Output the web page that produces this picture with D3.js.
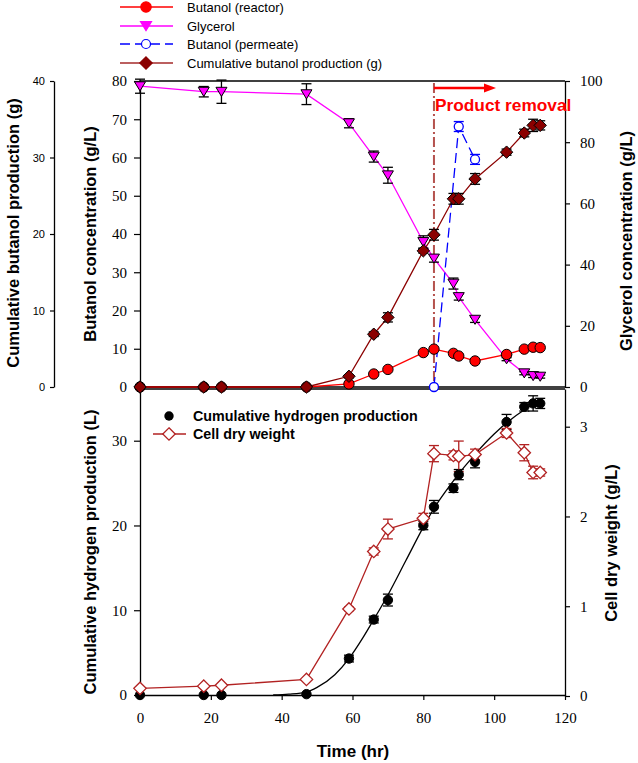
<!DOCTYPE html>
<html><head><meta charset="utf-8">
<script src="https://cdn.jsdelivr.net/npm/d3@7"></script>
<style>body{margin:0;background:#fff}svg{display:block}</style>
</head><body>
<svg id="c" width="638" height="763"></svg>
<script>
// ---------- DATA ----------
const times = [0,18,23,47,59,66,70,80,83,88.5,90,94.6,103.5,108.5,111,113];
const butanolReactor = [0,0,0,0,0.8,3.4,4.6,9.0,9.9,8.8,8.1,6.8,8.5,9.9,10.4,10.3];
const glycerol = [98.3,96.5,96.5,95.7,86.2,75.3,69.2,47.4,42.0,33.8,29.4,22.0,9.1,4.5,3.6,3.4];
const glycerolErr = [2.3,1.7,3.8,3.4,1.5,1.8,2.6,2.0,1.2,1.8,1.0,0.9,0.5,0.5,0.5,0.5];
const cumButanol = [0,0,0,0,1.4,6.9,9.1,17.8,19.9,24.6,24.6,27.2,30.7,33.2,34.2,34.2];
const cumButanolErr = [0,0,0,0,0.2,0.3,0.6,0.3,0.7,0.7,0.7,0.7,0.4,0.5,0.8,0.6];
const permeateTimes = [83,90,94.6];
const permeate = [0,68.1,59.5];
const permeateErr = [0,1.3,1.3];
const hydrogen = [0,0,0,0.1,4.3,8.9,11.2,20.0,22.2,24.4,26.0,27.5,32.2,34.0,34.4,34.4];
const hydrogenErr = [0,0,0,0,0.4,0.4,0.7,0.5,0.75,0.5,0.6,0.7,0.9,0.5,0.9,0.6];
const fitTimes = [37.6,42,47,50,55,59,63,66,70,75,80,83,88,95,100,105,111];
const fitValues = [0,0.1,0.35,0.9,2.4,4.3,6.8,8.9,11.8,15.8,19.8,22.0,25.0,28.6,30.8,32.6,34.3];
const cdw = [0.085,0.11,0.12,0.185,0.97,1.61,1.86,1.98,2.70,2.68,2.67,2.69,2.93,2.71,2.49,2.49];
const cdwErr = [0,0,0,0,0.02,0.04,0.11,0.055,0.09,0.05,0.17,0.06,0.05,0.09,0.07,0.04];
const xTicks = [0,20,40,60,80,100,120];
const butTicks = [0,10,20,30,40,50,60,70,80];
const glyTicks = [0,20,40,60,80,100];
const cumTicks = [0,10,20,30,40];
const h2Ticks = [0,10,20,30];
const cdwTicks = [0,1,2,3];
const removalTime = 83;

// ---------- SETUP ----------
const svg = d3.select("#c");
const SANS = "'Liberation Sans', Arial, sans-serif";
const SERIF = "'Liberation Serif', 'Times New Roman', serif";
const L = 140, R = 565, T1 = 81, B1 = 387, T2 = 389, B2 = 695;

const x = d3.scaleLinear([0,120],[L,R]);
const yBut = d3.scaleLinear([0,80],[B1,T1]);
const yCum = d3.scaleLinear([0,40],[B1,T1]);
const yGly = d3.scaleLinear([0,100],[B1,T1]);
const yH2 = d3.scaleLinear([0,36.1],[B2,T2]);
const yCdw = d3.scaleLinear([0,3.42],[B2+1,T2]);
const fmt = d3.format("d");

function styleAxis(g, font, size){
  g.attr("font-family", null).attr("font-size", null);
  g.selectAll("path.domain").attr("stroke","#000").attr("stroke-width",1.3);
  g.selectAll(".tick line").attr("stroke","#000").attr("stroke-width",1.2);
  g.selectAll("text").attr("font-family",font).style("font-family",font).style("font-size",size+"px").attr("fill","#000");
}

// frames
svg.append("line").attr("x1",L).attr("x2",R).attr("y1",T1).attr("y2",T1).attr("stroke","#000").attr("stroke-width",1.3);
svg.append("line").attr("x1",L).attr("x2",R).attr("y1",B1).attr("y2",B1).attr("stroke","#000").attr("stroke-width",1.3);
svg.append("line").attr("x1",L).attr("x2",R).attr("y1",T2).attr("y2",T2).attr("stroke","#000").attr("stroke-width",1.3);

// axes top panel
svg.append("g").attr("transform",`translate(${L},0)`)
  .call(d3.axisLeft(yBut).tickValues(butTicks).tickFormat(fmt).tickSize(6).tickPadding(7).tickSizeOuter(0))
  .call(g=>styleAxis(g,SERIF,15));
svg.append("g").attr("transform",`translate(${R},0)`)
  .call(d3.axisRight(yGly).tickValues(glyTicks).tickFormat(fmt).tickSize(5).tickPadding(10).tickSizeOuter(0))
  .call(g=>styleAxis(g,SERIF,15));
svg.append("g").attr("transform",`translate(54,0)`)
  .call(d3.axisLeft(yCum).tickValues(cumTicks).tickFormat(fmt).tickSize(4).tickPadding(5).tickSizeOuter(0))
  .call(g=>styleAxis(g,SANS,11));

// axes bottom panel
svg.append("g").attr("transform",`translate(${L},0)`)
  .call(d3.axisLeft(yH2).tickValues(h2Ticks).tickFormat(fmt).tickSize(6).tickPadding(7).tickSizeOuter(0))
  .call(g=>styleAxis(g,SERIF,15));
svg.append("g").attr("transform",`translate(${R},0)`)
  .call(d3.axisRight(yCdw).tickValues(cdwTicks).tickFormat(fmt).tickSize(5).tickPadding(10).tickSizeOuter(0))
  .call(g=>styleAxis(g,SERIF,15));
svg.append("g").attr("transform",`translate(0,${B2})`)
  .call(d3.axisBottom(x).tickValues(xTicks).tickFormat(fmt).tickSize(5).tickPadding(12).tickSizeOuter(0))
  .call(g=>styleAxis(g,SERIF,15));

// axis titles
function vtitle(txt, cx, cy){
  svg.append("text").attr("transform",`translate(${cx},${cy}) rotate(-90)`)
    .attr("text-anchor","middle").attr("dominant-baseline","central")
    .attr("font-family",SANS).attr("font-weight","bold").attr("font-size",16.5).text(txt);
}
vtitle("Cumulative butanol production (g)", 13, 233);
vtitle("Butanol concentration (g/L)", 90, 234);
vtitle("Glycerol concentration (g/L)", 626, 241);
vtitle("Cumulative hydrogen production (L)", 90, 552);
vtitle("Cell dry weight (g/L)", 611, 543);
svg.append("text").attr("x",353).attr("y",751).attr("text-anchor","middle").attr("dominant-baseline","central")
  .attr("font-family",SANS).attr("font-weight","bold").attr("font-size",17).text("Time (hr)");

// ---------- helpers ----------
const sym = {
  circle: r => d3.symbol(d3.symbolCircle, Math.PI*r*r)(),
  diamond: s => `M0,${-s}L${s},0L0,${s}L${-s},0Z`,
  tri: s => `M${-s},${-s*0.8}L${s},${-s*0.8}L0,${s*0.85}Z`
};
function line(xs, ys, yS, color, width, dash, curve){
  const pts = xs.map((t,i)=>[x(t), yS(ys[i])]);
  svg.append("path").attr("d", d3.line().curve(curve||d3.curveLinear)(pts))
    .attr("fill","none").attr("stroke",color).attr("stroke-width",width)
    .attr("stroke-dasharray",dash||null);
}
function errs(xs, ys, es, yS, color){
  const g = svg.append("g").attr("stroke",color).attr("stroke-width",1.3);
  xs.forEach((t,i)=>{
    if(!es[i]) return;
    const cx = x(t), y1 = yS(ys[i]-es[i]), y2 = yS(ys[i]+es[i]);
    g.append("line").attr("x1",cx).attr("x2",cx).attr("y1",y1).attr("y2",y2);
    g.append("line").attr("x1",cx-5).attr("x2",cx+5).attr("y1",y1).attr("y2",y1);
    g.append("line").attr("x1",cx-5).attr("x2",cx+5).attr("y1",y2).attr("y2",y2);
  });
}
function marks(xs, ys, yS, path, fill, stroke, sw){
  svg.append("g").selectAll("path").data(xs).join("path")
    .attr("transform",(t,i)=>`translate(${x(t)},${yS(ys[i])})`)
    .attr("d",path).attr("fill",fill).attr("stroke",stroke).attr("stroke-width",sw||1);
}

// ---------- top panel ----------
svg.append("line").attr("x1",x(removalTime)).attr("x2",x(removalTime)).attr("y1",83).attr("y2",B1)
  .attr("stroke","#b5524e").attr("stroke-width",2).attr("stroke-dasharray","10,3,2,3");
svg.append("line").attr("x1",x(removalTime)).attr("x2",485).attr("y1",88).attr("y2",88)
  .attr("stroke","#ff0000").attr("stroke-width",2.5);
svg.append("path").attr("d","M484,83.5L496,88L484,92.5Z").attr("fill","#ff0000");
svg.append("text").attr("x",435).attr("y",111).attr("font-family",SANS).attr("font-weight","bold")
  .attr("font-size",17.3).attr("fill","#ff0000").text("Product removal");

line(times, glycerol, yGly, "#ff00ff", 1.3);
line(times, butanolReactor, yBut, "#ff0000", 1.3);
line(permeateTimes, permeate, yBut, "#0000ff", 1.3, "10,5");
line(times, cumButanol, yCum, "#8b0000", 1.3);

errs(times, glycerol, glycerolErr, yGly, "#000");
errs(times, cumButanol, cumButanolErr, yCum, "#000");
errs(permeateTimes, permeate, permeateErr, yBut, "#0000ff");

marks(times, glycerol, yGly, sym.tri(5.5), "#ff00ff", "#000", 1);
marks(times, butanolReactor, yBut, sym.circle(5.2), "#ff0000", "#000", 1);
marks(permeateTimes, permeate, yBut, sym.circle(4.5), "#fff", "#0000ff", 1.3);
marks(times, cumButanol, yCum, sym.diamond(6.2), "#8b0000", "#000", 1);

// ---------- bottom panel ----------
line(fitTimes, fitValues, yH2, "#000", 1.3, null, d3.curveMonotoneX);
line(times, cdw, yCdw, "#b22222", 1.3);
errs(times, hydrogen, hydrogenErr, yH2, "#000");
errs(times, cdw, cdwErr, yCdw, "#b22222");
marks(times, hydrogen, yH2, sym.circle(4.7), "#000", "#000", 1);
marks(times, cdw, yCdw, sym.diamond(6.2), "#fff", "#b22222", 1.3);

// ---------- legends ----------
const leg = [
  {t:"Butanol (reactor)", c:"#ff0000", p:sym.circle(5.2), f:"#ff0000", s:"#ff0000", d:null},
  {t:"Glycerol", c:"#ff00ff", p:sym.tri(5.5), f:"#ff00ff", s:"#ff00ff", d:null},
  {t:"Butanol (permeate)", c:"#0000ff", p:sym.circle(4.5), f:"#fff", s:"#0000ff", d:"10,5"},
  {t:"Cumulative butanol production (g)", c:"#a52a2a", p:sym.diamond(6.2), f:"#8b0000", s:"#8b0000", d:null}
];
const legY = [7,26,44,63];
leg.forEach((l,i)=>{
  const y = legY[i];
  svg.append("line").attr("x1",120).attr("x2",173).attr("y1",y).attr("y2",y)
    .attr("stroke",l.c).attr("stroke-width",1.5).attr("stroke-dasharray",l.d);
  svg.append("path").attr("transform",`translate(146,${y})`).attr("d",l.p)
    .attr("fill",l.f).attr("stroke",l.s).attr("stroke-width",1.2);
  svg.append("text").attr("x",187).attr("y",y).attr("dominant-baseline","central")
    .attr("font-family",SANS).attr("font-size",13).text(l.t);
});
svg.append("path").attr("transform","translate(169,416)").attr("d",sym.circle(4.7)).attr("fill","#000");
svg.append("text").attr("x",193).attr("y",416).attr("dominant-baseline","central")
  .attr("font-family",SANS).attr("font-weight","bold").attr("font-size",14.3).text("Cumulative hydrogen production");
svg.append("line").attr("x1",153).attr("x2",186).attr("y1",434).attr("y2",434).attr("stroke","#b22222").attr("stroke-width",1.3);
svg.append("path").attr("transform","translate(169,434)").attr("d",sym.diamond(6.2)).attr("fill","#fff").attr("stroke","#b22222").attr("stroke-width",1.3);
svg.append("text").attr("x",193).attr("y",434).attr("dominant-baseline","central")
  .attr("font-family",SANS).attr("font-weight","bold").attr("font-size",14.3).text("Cell dry weight");
</script>
</body></html>
